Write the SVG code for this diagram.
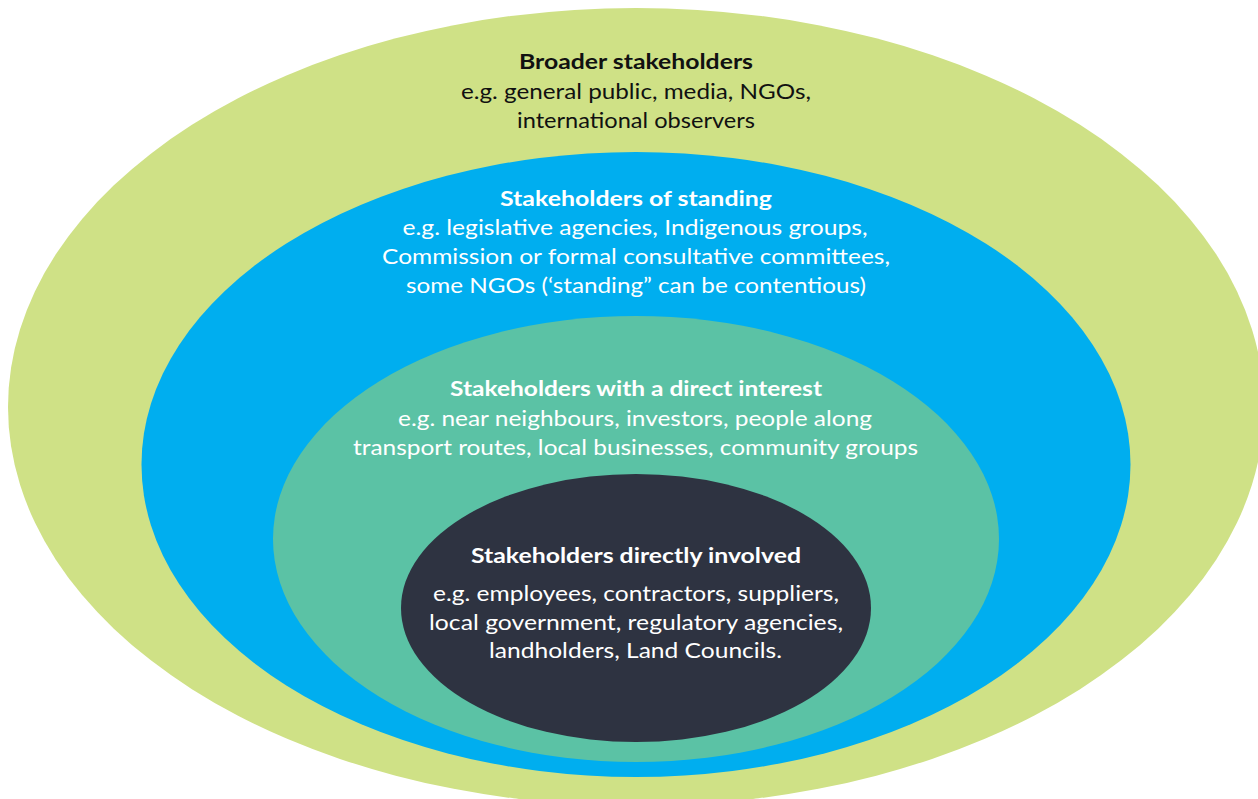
<svg xmlns="http://www.w3.org/2000/svg" width="1258" height="799" viewBox="0 0 1258 799">
  <style>
    .lbl { font-family: "Lato", "Open Sans", "Liberation Sans", sans-serif; font-size: 21px; text-anchor: middle; }
    .title { font-weight: 700; }
    .dark { fill: #111111; }
    .light { fill: #ffffff; }
  </style>
  <rect width="1258" height="799" fill="#ffffff"/>

  <!-- Outer ring: broader stakeholders -->
  <g id="broader">
    <ellipse cx="636" cy="407" rx="628" ry="399" fill="#cfe186"/>
    <text class="lbl title dark" x="636" y="69" textLength="234" lengthAdjust="spacingAndGlyphs">Broader stakeholders</text>
    <text class="lbl dark" x="636" y="99" textLength="350" lengthAdjust="spacingAndGlyphs">e.g. general public, media, NGOs,</text>
    <text class="lbl dark" x="636" y="128" textLength="238" lengthAdjust="spacingAndGlyphs">international observers</text>
  </g>

  <!-- Second ring: stakeholders of standing -->
  <g id="standing">
    <ellipse cx="636" cy="464.5" rx="494.5" ry="312.5" fill="#00aeef"/>
    <text class="lbl title light" x="636" y="206" textLength="272" lengthAdjust="spacingAndGlyphs">Stakeholders of standing</text>
    <text class="lbl light" x="635" y="235" textLength="465" lengthAdjust="spacingAndGlyphs">e.g. legislative agencies, Indigenous groups,</text>
    <text class="lbl light" x="636" y="264" textLength="508" lengthAdjust="spacingAndGlyphs">Commission or formal consultative committees,</text>
    <text class="lbl light" x="636" y="293" textLength="460" lengthAdjust="spacingAndGlyphs">some NGOs (‘standing” can be contentious)</text>
  </g>

  <!-- Third ring: direct interest -->
  <g id="direct-interest">
    <ellipse cx="636" cy="539" rx="363" ry="223" fill="#5bc2a5"/>
    <text class="lbl title light" x="636" y="396" textLength="372" lengthAdjust="spacingAndGlyphs">Stakeholders with a direct interest</text>
    <text class="lbl light" x="635" y="426" textLength="474" lengthAdjust="spacingAndGlyphs">e.g. near neighbours, investors, people along</text>
    <text class="lbl light" x="635.5" y="455" textLength="565" lengthAdjust="spacingAndGlyphs">transport routes, local businesses, community groups</text>
  </g>

  <!-- Core: directly involved -->
  <g id="directly-involved">
    <ellipse cx="636" cy="608" rx="235" ry="134" fill="#2e3341"/>
    <text class="lbl title light" x="636" y="563" textLength="330" lengthAdjust="spacingAndGlyphs">Stakeholders directly involved</text>
    <text class="lbl light" x="636" y="601" textLength="406" lengthAdjust="spacingAndGlyphs">e.g. employees, contractors, suppliers,</text>
    <text class="lbl light" x="636" y="630" textLength="414" lengthAdjust="spacingAndGlyphs">local government, regulatory agencies,</text>
    <text class="lbl light" x="635.5" y="658" textLength="293" lengthAdjust="spacingAndGlyphs">landholders, Land Councils.</text>
  </g>

  <g id="connectors"/>
</svg>
